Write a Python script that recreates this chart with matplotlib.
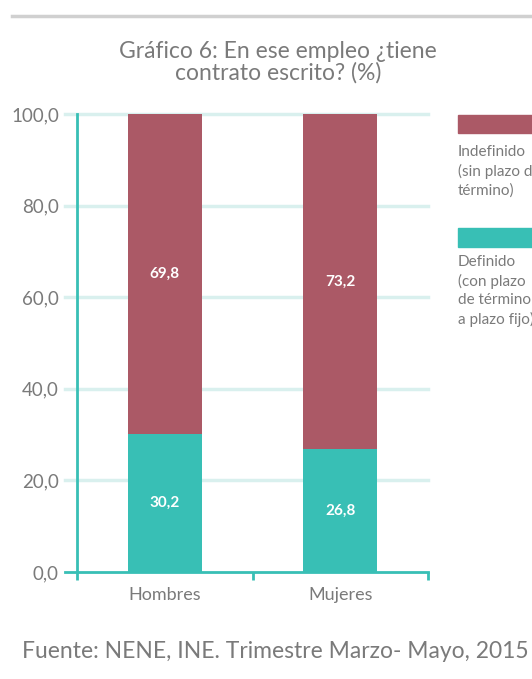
import matplotlib
matplotlib.use('Agg')
from matplotlib import pyplot as plt
from matplotlib.patches import Rectangle

# data
categories = ['Hombres', 'Mujeres']
definido = [30.2, 26.8]
indefinido = [69.8, 73.2]
yticks = [0, 20, 40, 60, 80, 100]

red = '#ab5966'
teal = '#38bfb5'
grid_c = '#d9f0ee'
txt = '#7a7a7a'

plt.rcParams['font.family'] = ['Lato', 'DejaVu Sans']

fig = plt.figure(figsize=(5.32, 6.79), dpi=100)
ax = fig.add_axes([77/532, 1-572/679, 351/532, 458/679])

x = list(range(len(categories)))
ax.bar(x, definido, width=0.42, color=teal, zorder=3)
ax.bar(x, indefinido, width=0.42, bottom=definido, color=red, zorder=3)

for i in x:
    ax.text(i, definido[i]/2, f'{definido[i]:.1f}'.replace('.', ','),
            ha='center', va='center', color='white', fontsize=11, fontweight='bold', zorder=4)
    ax.text(i, definido[i] + indefinido[i]/2, f'{indefinido[i]:.1f}'.replace('.', ','),
            ha='center', va='center', color='white', fontsize=11, fontweight='bold', zorder=4)

ax.set_xlim(-0.5, 1.5)
ax.set_ylim(0, 100)

# gridlines extending left of the spine like ticks
for v in yticks[1:]:
    ax.plot([-0.57, 1.5], [v, v], color=grid_c, lw=2.5, clip_on=False, zorder=1)
ax.plot([-0.57, 1.5], [0, 0], color=teal, lw=2, clip_on=False, zorder=5)

ax.set_yticks(yticks)
ax.set_yticklabels([f'{v:.1f}'.replace('.', ',') for v in yticks], color=txt, fontsize=13.5)
ax.tick_params(axis='y', length=0, pad=13)

ax.set_xticks([-0.5, 0.5, 1.5])
ax.set_xticklabels([])
ax.tick_params(axis='x', length=6, width=2, color=teal)
for i in x:
    ax.text(i, -3.2, categories[i], ha='center', va='top', color=txt, fontsize=13)

for s in ['top', 'right', 'bottom']:
    ax.spines[s].set_visible(False)
ax.spines['left'].set_color(teal)
ax.spines['left'].set_linewidth(2)
ax.set_facecolor('none')

# top rule
fig.add_artist(plt.Line2D([12/532, 1], [1-16/679, 1-16/679], color='#d0d0d0', lw=2.5))

fig.text(278/532, 1-62/679, 'Gráfico 6: En ese empleo ¿tiene\ncontrato escrito? (%)',
         ha='center', va='center', color=txt, fontsize=16.5, linespacing=1.0)

fig.text(22/532, 1-652/679, 'Fuente: NENE, INE. Trimestre Marzo- Mayo, 2015',
         ha='left', va='center', color=txt, fontsize=16.5)

# legend on the right
fig.add_artist(Rectangle((458/532, 1-133/679), 80/532, 18/679, color=red, transform=fig.transFigure))
fig.text(458/532, 1-145/679, 'Indefinido\n(sin plazo de\ntérmino)', ha='left', va='top',
         color=txt, fontsize=11, linespacing=1.4)
fig.add_artist(Rectangle((458/532, 1-247/679), 80/532, 19/679, color=teal, transform=fig.transFigure))
fig.text(458/532, 1-255/679, 'Definido\n(con plazo\nde término\na plazo fijo)', ha='left', va='top',
         color=txt, fontsize=11, linespacing=1.4)

fig.savefig('out.png', dpi=100)
